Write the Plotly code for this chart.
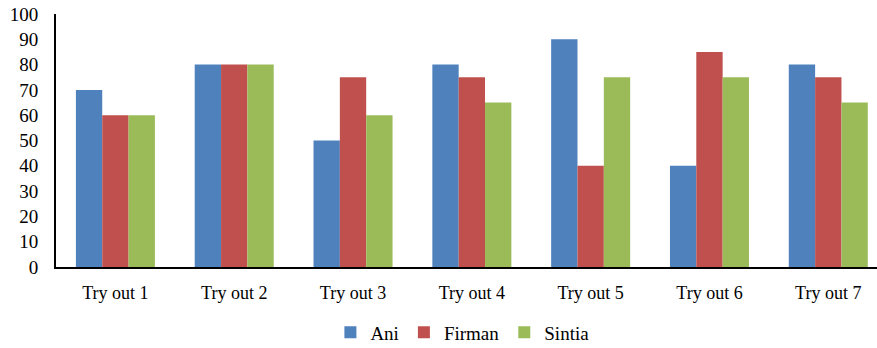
import plotly.graph_objects as go

categories = ["Try out 1", "Try out 2", "Try out 3", "Try out 4", "Try out 5", "Try out 6", "Try out 7"]
ani = [70, 80, 50, 80, 90, 40, 80]
firman = [60, 80, 75, 75, 40, 85, 75]
sintia = [60, 80, 60, 65, 75, 75, 65]

series = [("Ani", ani, "#4F81BD"), ("Firman", firman, "#C0504D"), ("Sintia", sintia, "#9BBB59")]

fig = go.Figure()
for name, vals, color in series:
    fig.add_trace(go.Bar(x=list(range(len(categories))), y=vals, name=name,
                         marker=dict(color=color, line=dict(width=0))))

serif = "'Times New Roman', 'Liberation Serif', 'DejaVu Serif', serif"
fig.update_layout(
    width=877, height=348,
    margin=dict(l=56, r=0, t=14, b=81, autoexpand=False),
    paper_bgcolor="white", plot_bgcolor="white",
    barmode="group", bargap=0.335, bargroupgap=0,
    font=dict(family=serif, size=17, color="black"),
    showlegend=True,
    legend=dict(orientation="h", x=0.495, xanchor="center", yref="container", y=0.045, yanchor="middle",
                font=dict(family=serif, size=19, color="black"),
                itemwidth=30, tracegroupgap=0),
    xaxis=dict(tickmode="array", tickvals=list(range(len(categories))), ticktext=categories,
               range=[-0.5, 6.41], showline=True, linecolor="black", linewidth=2,
               showgrid=False, zeroline=False, ticks="", ticklabelstandoff=8,
               tickfont=dict(family=serif, size=18), automargin=False),
    yaxis=dict(range=[0, 100], dtick=10, showline=True, linecolor="black", linewidth=2,
               showgrid=False, zeroline=False, ticks="", ticklabelstandoff=12,
               tickfont=dict(family=serif, size=19), automargin=False),
)
fig.write_html("out.html")
